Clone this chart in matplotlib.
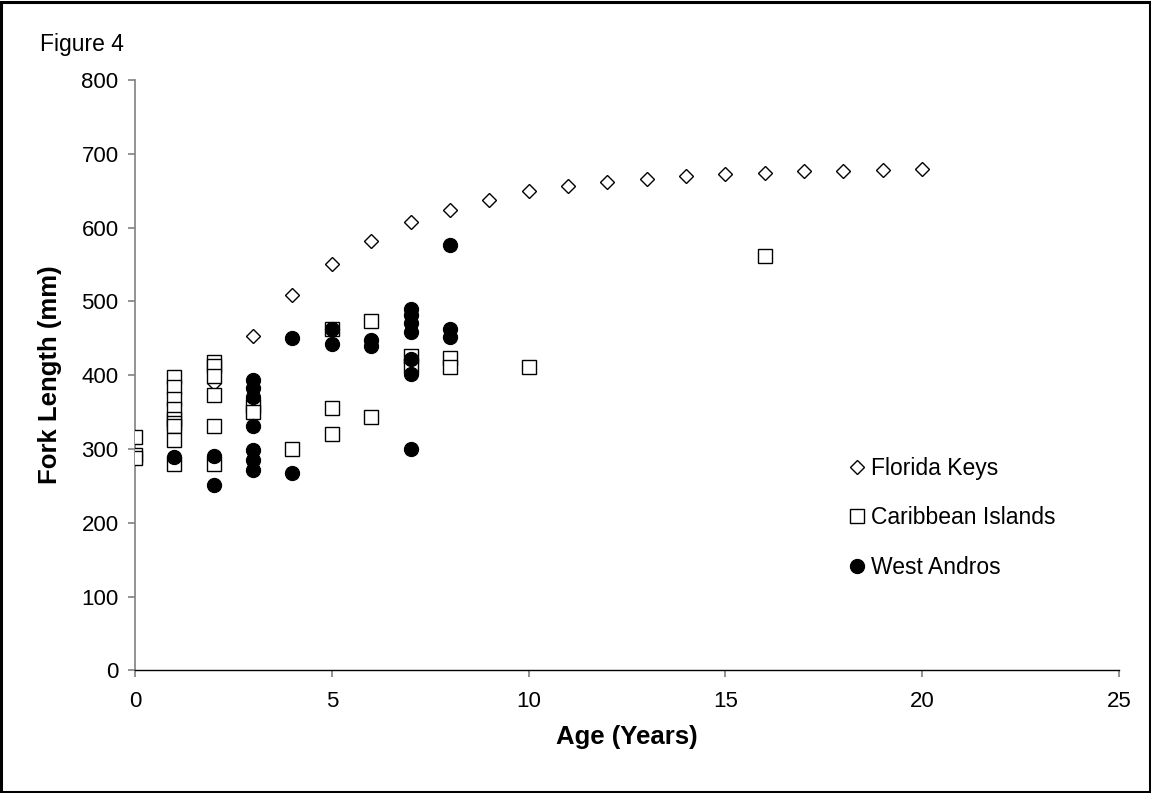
import matplotlib
matplotlib.use("Agg")
import matplotlib.pyplot as plt
from matplotlib.patches import Rectangle

plt.rcParams['font.family'] = ['Liberation Sans', 'DejaVu Sans']

# Florida Keys
fk_age = [2, 3, 4, 5, 6, 7, 8, 9, 10, 11, 12, 13, 14, 15, 16, 17, 18, 19, 20]
fk_len = [389, 453, 509, 551, 582, 607, 624, 638, 649, 656, 662, 666, 670, 672, 674, 676, 677, 678, 679]

# Caribbean Islands
ci_age = [0, 0, 0,
          1, 1, 1, 1, 1, 1, 1, 1, 1,
          2, 2, 2, 2, 2, 2,
          3, 3,
          4,
          5, 5, 5,
          6, 6,
          7, 7,
          8, 8,
          10,
          16]
ci_len = [316, 292, 288,
          398, 384, 368, 354, 340, 335, 331, 312, 280,
          418, 412, 399, 373, 331, 280,
          358, 350,
          300,
          462, 355, 320,
          473, 343,
          426, 412,
          423, 411,
          411,
          561]

# West Andros
wa_age = [1,
          2, 2,
          3, 3, 3, 3, 3, 3, 3,
          4, 4,
          5, 5,
          6, 6,
          7, 7, 7, 7, 7, 7, 7,
          8, 8, 8]
wa_len = [289,
          290, 251,
          393, 382, 371, 331, 298, 285, 272,
          451, 267,
          462, 442,
          447, 439,
          490, 481, 470, 459, 422, 401, 300,
          576, 463, 452]

W, H = 1151, 793
fig = plt.figure(figsize=(W / 100, H / 100), dpi=100)
ax = fig.add_axes([135 / W, 1 - 670.3 / H, (1119 - 135) / W, (670.3 - 80) / H])

ax.plot(fk_age, fk_len, linestyle='none', marker='D', markersize=7.0,
        markerfacecolor='white', markeredgecolor='black', markeredgewidth=1.0,
        label='Florida Keys', zorder=3)
ax.plot(ci_age, ci_len, linestyle='none', marker='s', markersize=9.8,
        markerfacecolor='white', markeredgecolor='black', markeredgewidth=1.0,
        label='Caribbean Islands', zorder=3)
ax.plot(wa_age, wa_len, linestyle='none', marker='o', markersize=10.2,
        markerfacecolor='black', markeredgecolor='black', markeredgewidth=0.8,
        label='West Andros', zorder=4)

ax.set_xlim(0, 25)
ax.set_ylim(0, 800)
ax.set_xticks([0, 5, 10, 15, 20, 25])
ax.set_yticks(range(0, 801, 100))

for s in ['top', 'right']:
    ax.spines[s].set_visible(False)
ax.spines['left'].set_color('#808080')
ax.spines['left'].set_linewidth(1.2)
ax.spines['bottom'].set_color('black')
ax.spines['bottom'].set_linewidth(1.0)
ax.spines['bottom'].set_zorder(5)

ax.tick_params(axis='both', which='major', direction='out', color='#808080',
               width=1.2, labelsize=16, labelcolor='black')
ax.tick_params(axis='y', length=4.8, pad=7)
ax.tick_params(axis='x', length=5, pad=10)

ax.set_xlabel('Age (Years)', fontsize=18.5, fontweight='bold', labelpad=9)
ax.set_ylabel('Fork Length (mm)', fontsize=18.5, fontweight='bold', labelpad=14)

leg = ax.legend(loc='upper left',
                bbox_to_anchor=((849 - 135) / (1119 - 135), (670.3 - 457) / (670.3 - 80)),
                frameon=False, fontsize=16.5, labelspacing=1.15, handlelength=0.7,
                handletextpad=0.26, markerscale=1.0, borderaxespad=0, borderpad=0)

fig.text(40 / W, 1 - 45 / H, 'Figure 4', fontsize=16.5, ha='left', va='center')

fig.patches.append(Rectangle((0.001, 0.001), 0.998, 0.997, transform=fig.transFigure,
                             fill=False, edgecolor='black', linewidth=2.2, zorder=10))

fig.savefig('out.png', dpi=100)
